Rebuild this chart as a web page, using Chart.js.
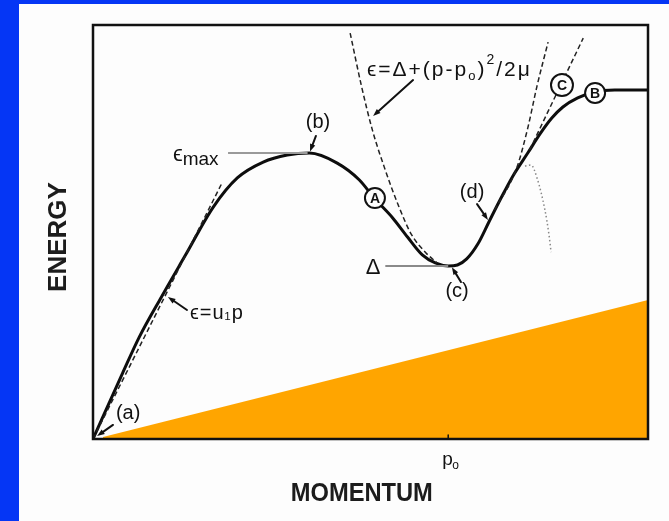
<!DOCTYPE html>
<html>
<head>
<meta charset="utf-8">
<script src="https://cdn.jsdelivr.net/npm/chart.js@4.4.1/dist/chart.umd.min.js"></script>
<style>
  html, body { margin: 0; padding: 0; width: 669px; height: 521px; overflow: hidden; background: #0536f5; }
  #panel { position: absolute; left: 19px; top: 4px; width: 650px; height: 517px; background: #fdfdfd; }
</style>
</head>
<body>
<div id="panel"><canvas id="chart" width="650" height="517"></canvas></div>
<script>
// excitation spectrum: momentum p vs energy (same units on both sets)
const P0 = 1.92;
const curveP = [0, 0.16, 0.25, 0.37, 0.50, 0.65, 0.78, 0.92, 1.05, 1.17, 1.32, 1.44, 1.52, 1.62, 1.70, 1.78,
  1.85, 1.92, 1.97, 2.02, 2.08, 2.14, 2.20, 2.27, 2.35, 2.42, 2.48, 2.54, 2.62, 2.71, 2.82, 3.0];
const curveE = [0, 3.28, 5.07, 7.07, 9.15, 11.54, 12.99, 13.78, 14.13, 14.23, 13.73, 12.89, 11.99, 11.00, 10.05, 9.16,
  8.76, 8.61, 8.66, 8.96, 9.70, 10.80, 11.89, 13.09, 14.23, 15.23, 15.97, 16.52, 16.97, 17.27, 17.37, 17.37];

// phonon line  e = u1 p
const phononP = [0, 0.70];
const phononE = [0, 12.79];

// roton parabola, both branches
const rotonLeftP = [1.39, 1.45, 1.51, 1.58, 1.65, 1.72, 1.80, 1.86];
const rotonLeftE = [20.20, 17.61, 15.38, 13.38, 11.64, 10.20, 9.26, 8.76];
const rotonRightP = [2.17, 2.29, 2.35, 2.40, 2.46];
const rotonRightE = [11.39, 13.48, 15.47, 17.56, 19.75];

// tangent at C, and the dotted branch that falls away
const tangentP = [2.36, 2.65];
const tangentE = [14.38, 19.95];
const dropP = [2.335, 2.368, 2.40, 2.443, 2.465, 2.476];
const dropE = [13.58, 13.63, 12.99, 11.39, 10.15, 9.30];

// marker levels
const emaxP = [0.73, 1.16];
const EMAX = 14.23;
const gapP = [1.58, 1.92];
const GAP = 8.61;

// shaded wedge
const wedgeP = [0.054, 3.0];
const wedgeE = [0.1, 6.92];

const pts = (xs, ys) => xs.map((v, i) => ({ x: v, y: Array.isArray(ys) ? ys[i] : ys }));

const FONT = '"Liberation Sans", Arial, sans-serif';

function arrow(ctx, x1, y1, x2, y2) {
  const ang = Math.atan2(y2 - y1, x2 - x1);
  const head = 8;
  ctx.beginPath();
  ctx.moveTo(x1, y1);
  ctx.lineTo(x2 - Math.cos(ang) * head * 0.8, y2 - Math.sin(ang) * head * 0.8);
  ctx.stroke();
  ctx.beginPath();
  ctx.moveTo(x2, y2);
  ctx.lineTo(x2 - head * Math.cos(ang - 0.35), y2 - head * Math.sin(ang - 0.35));
  ctx.lineTo(x2 - head * Math.cos(ang + 0.35), y2 - head * Math.sin(ang + 0.35));
  ctx.closePath();
  ctx.fill();
}

// draws pieces of text one glyph at a time with a bit of extra spacing
function run(ctx, parts, x, y, spacing) {
  for (const part of parts) {
    ctx.font = part.size + 'px ' + FONT;
    for (const ch of part.t) {
      ctx.fillText(ch, x, y + (part.dy || 0));
      x += ctx.measureText(ch).width + spacing;
    }
  }
}

function circled(ctx, cx, cy, r, letter) {
  ctx.beginPath();
  ctx.arc(cx, cy, r, 0, Math.PI * 2);
  ctx.fillStyle = '#fdfdfd';
  ctx.fill();
  ctx.lineWidth = 2;
  ctx.stroke();
  ctx.fillStyle = '#111';
  ctx.font = 'bold 14px ' + FONT;
  ctx.textAlign = 'center';
  ctx.fillText(letter, cx, cy + 1);
}

const annotate = {
  id: 'annotate',
  afterDatasetsDraw(chart) {
    const { ctx, chartArea: a, scales: { x, y } } = chart;
    const X = v => x.getPixelForValue(v);
    const Y = v => y.getPixelForValue(v);
    ctx.save();
    ctx.strokeStyle = '#111';
    ctx.fillStyle = '#111';
    ctx.lineCap = 'round';

    // frame and p0 tick
    ctx.lineWidth = 2.5;
    ctx.strokeRect(a.left, a.top, a.width, a.height);
    ctx.lineWidth = 1.5;
    ctx.beginPath();
    ctx.moveTo(X(P0), a.bottom);
    ctx.lineTo(X(P0), a.bottom - 4);
    ctx.stroke();

    ctx.textBaseline = 'middle';
    ctx.textAlign = 'center';
    ctx.font = '20px ' + FONT;
    ctx.fillText('(a)', X(0.19), Y(1.29));
    ctx.fillText('(b)', X(1.216), Y(15.77));
    ctx.fillText('(c)', X(1.968), Y(7.36));
    ctx.fillText('(d)', X(2.049), Y(12.29));
    ctx.font = '22px ' + FONT;
    ctx.fillText('Δ', X(1.514), Y(8.51));

    ctx.lineWidth = 2;
    arrow(ctx, X(0.108), Y(0.70), X(0.022), Y(0.15));
    arrow(ctx, X(1.205), Y(15.08), X(1.173), Y(14.30));
    arrow(ctx, X(1.989), Y(7.81), X(1.940), Y(8.55));
    arrow(ctx, X(2.076), Y(11.69), X(2.135), Y(10.90));
    arrow(ctx, X(0.508), Y(6.42), X(0.405), Y(7.07));
    arrow(ctx, X(1.730), Y(17.86), X(1.514), Y(16.07));

    ctx.textAlign = 'left';
    run(ctx, [{ t: 'ϵ=u', size: 20 }, { t: '₁', size: 18 }, { t: 'p', size: 20 }], X(0.524), Y(6.27), 1);
    run(ctx, [{ t: 'ϵ', size: 22 }, { t: 'max', size: 19, dy: 5 }], X(0.432), Y(14.13), 0);
    run(ctx, [
      { t: 'ϵ=Δ+(p-p', size: 21 },
      { t: 'o', size: 13, dy: 6 },
      { t: ')', size: 21 },
      { t: '2', size: 14, dy: -10 },
      { t: '/2μ', size: 21 }
    ], X(1.481), Y(18.36), 2);

    // p0 under the axis
    ctx.font = '19px ' + FONT;
    ctx.fillText('p', X(P0) - 6, a.bottom + 21);
    ctx.font = '12px ' + FONT;
    ctx.fillText('o', X(P0) + 4, a.bottom + 27);

    ctx.strokeStyle = '#111';
    circled(ctx, X(1.524), Y(11.99), 10, 'A');
    circled(ctx, X(2.535), Y(17.61), 11, 'C');
    circled(ctx, X(2.714), Y(17.22), 10, 'B');

    // axis titles
    ctx.fillStyle = '#1c1c1c';
    ctx.textAlign = 'center';
    ctx.font = 'bold 25px ' + FONT;
    ctx.fillText('MOMENTUM', X(1.453), a.bottom + 55, 142);
    ctx.translate(a.left - 34, Y(10.05));
    ctx.rotate(-Math.PI / 2);
    ctx.font = 'bold 26px ' + FONT;
    ctx.fillText('ENERGY', 0, 0, 115);
    ctx.restore();
  }
};

const dashed = { borderColor: '#222', borderWidth: 1.5, borderDash: [5, 3], pointRadius: 0, fill: false };

new Chart(document.getElementById('chart'), {
  type: 'scatter',
  data: {
    datasets: [
      { data: pts(wedgeP, wedgeE), showLine: true, borderWidth: 0, pointRadius: 0,
        backgroundColor: '#ffa500', fill: 'origin' },
      { data: pts(phononP, phononE), showLine: true, ...dashed },
      { data: pts(rotonLeftP, rotonLeftE), showLine: true, cubicInterpolationMode: 'monotone', ...dashed },
      { data: pts(rotonRightP, rotonRightE), showLine: true, cubicInterpolationMode: 'monotone', ...dashed },
      { data: pts(tangentP, tangentE), showLine: true, ...dashed },
      { data: pts(dropP, dropE), showLine: true, cubicInterpolationMode: 'monotone',
        borderColor: '#888', borderWidth: 1.5, borderDash: [1.5, 2.5], pointRadius: 0 },
      { data: pts(emaxP, EMAX), showLine: true, borderColor: '#9a9a9a', borderWidth: 2, pointRadius: 0 },
      { data: pts(gapP, GAP), showLine: true, borderColor: '#8a8a8a', borderWidth: 2, pointRadius: 0 },
      { data: pts(curveP, curveE), showLine: true, cubicInterpolationMode: 'monotone',
        borderColor: '#0d0d0d', borderWidth: 3, pointRadius: 0 }
    ]
  },
  options: {
    responsive: false,
    animation: false,
    devicePixelRatio: 1,
    layout: { padding: { left: 74, top: 21, right: 21, bottom: 82 } },
    scales: {
      x: { type: 'linear', min: 0, max: 3, display: false },
      y: { type: 'linear', min: 0, max: 20.6, display: false }
    },
    plugins: { legend: { display: false }, tooltip: { enabled: false } }
  },
  plugins: [annotate]
});
</script>
</body>
</html>
